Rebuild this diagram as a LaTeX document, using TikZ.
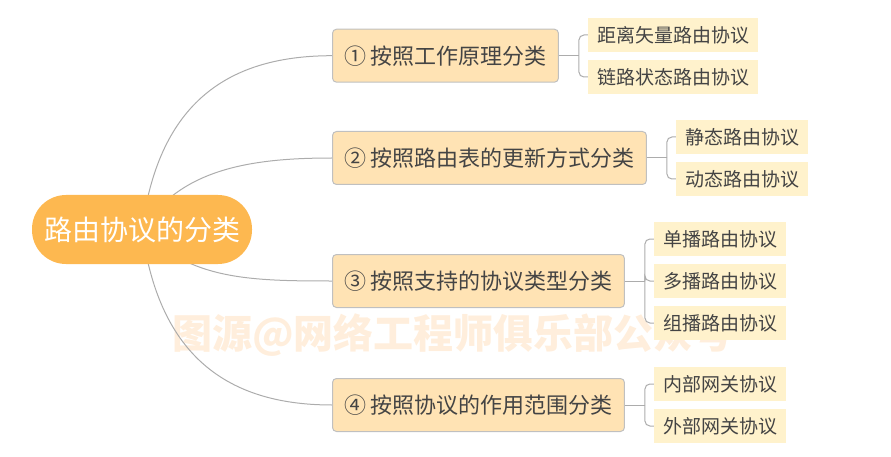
\documentclass[tikz,border=0pt]{standalone}
\usepackage{fontspec}
\setmainfont{Noto Sans CJK SC}
\usetikzlibrary{calc,backgrounds}

\definecolor{rootfill}{RGB}{253,184,80}
\definecolor{topicfill}{RGB}{255,227,180}
\definecolor{topicline}{RGB}{192,192,192}
\definecolor{leaffill}{RGB}{255,242,204}
\definecolor{txt}{RGB}{68,68,68}
\definecolor{linecol}{RGB}{172,172,172}
\definecolor{wmcol}{RGB}{255,238,220}

\tikzset{
	rootbox/.style={fill=rootfill, rounded corners=34pt, minimum height=69pt, inner xsep=12pt, text=white, font=\fontsize{28}{32}\selectfont},
	topicbox/.style={draw=topicline, fill=topicfill, rounded corners=4pt, line width=1pt, minimum height=53pt, inner xsep=11.5pt, text=txt, font=\fontsize{22}{26}\selectfont},
	leafbox/.style={fill=leaffill, minimum height=33.5pt, inner xsep=9pt, text=txt, font=\fontsize{19}{22}\selectfont},
	branch/.style={draw=linecol, line width=1pt},
	wmtext/.style={text=wmcol, inner sep=0pt, font=\fontsize{40}{44}\selectfont\bfseries}
}

\begin{document}
\begin{tikzpicture}[x=1pt,y=1pt]
\useasboundingbox (0,0) rectangle (891,-457);

\node[rootbox] (root) at (142,-229.5) {路由协议的分类};

\node[topicbox, anchor=west] (t1) at (332,-55.7) {① 按照工作原理分类};
\node[topicbox, anchor=west] (t2) at (332,-158) {② 按照路由表的更新方式分类};
\node[topicbox, anchor=west] (t3) at (332,-281) {③ 按照支持的协议类型分类};
\node[topicbox, anchor=west] (t4) at (332,-405) {④ 按照协议的作用范围分类};

\foreach \t in {1,...,4}{
	\draw[branch] (t\t.east) -- ++(20,0) coordinate (j\t);
}

\foreach \t/\n/\y/\txt in {1/1/35/距离矢量路由协议, 1/2/77/链路状态路由协议,
	2/1/137/静态路由协议, 2/2/179/动态路由协议,
	3/1/239/单播路由协议, 3/2/281/多播路由协议, 3/3/323/组播路由协议,
	4/1/384/内部网关协议, 4/2/426/外部网关协议}{
	\node[leafbox, anchor=west] (l\t\n) at ($(j\t |- 0,-\y)+(9,0)$) {\txt};
	\draw[branch, rounded corners=5pt] (j\t) |- (l\t\n.west);
}

\begin{scope}[on background layer]
\node[wmtext] (wm) at (453,-335) {图源@网络工程师俱乐部公众号};
\draw[branch] (root.center) .. controls +(16,120) and +(-111,0) .. (t1.west);
\draw[branch] (root.center) .. controls +(38,60) and +(-83,0) .. (t2.west);
\draw[branch] (root.center) .. controls +(48,-50) and +(-83,0) .. (t3.west);
\draw[branch] (root.center) .. controls +(16,-120) and +(-111,0) .. (t4.west);
\end{scope}

\end{tikzpicture}
\end{document}
